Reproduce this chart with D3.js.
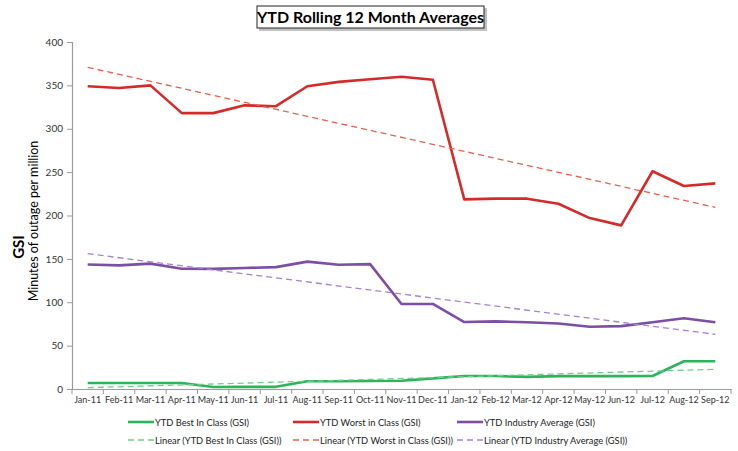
<!DOCTYPE html>
<html><head><meta charset="utf-8">
<script src="https://d3js.org/d3.v7.min.js"></script>
<style>
body{margin:0;background:#fff;}
svg{display:block;font-family:Lato,"Open Sans",sans-serif;}
</style></head>
<body>
<svg id="chart" width="738" height="451"></svg>
<script>
const categories = ["Jan-11","Feb-11","Mar-11","Apr-11","May-11","Jun-11","Jul-11","Aug-11","Sep-11","Oct-11","Nov-11","Dec-11","Jan-12","Feb-12","Mar-12","Apr-12","May-12","Jun-12","Jul-12","Aug-12","Sep-12"];
const bestInClass = [6.9,6.9,6.9,6.9,2.3,2.5,2.5,9.0,9.0,9.2,9.5,12.3,15.0,15.0,14.0,14.8,14.8,14.8,15.0,32.0,32.0];
const worstInClass = [349,347,350,318,318,327,326,349,354,357,360,356.5,218.6,219.4,219.4,213.6,197,188.6,251,234,237];
const industryAvg = [143.5,142.5,144.5,138.7,138.5,139.5,140.5,146.8,143.3,144,98,98,77.2,78,77,75.5,71.8,72.5,77,81.5,77];
const trendBest = [1.5,22.7];
const trendWorst = [370.8,209.4];
const trendIndustry = [156,63];
const yTicks = [0,50,100,150,200,250,300,350,400];

(function(){
const svg = d3.select("#chart");
const pl = 72, pr = 731, pt = 42, pb = 389;
const x = d3.scaleBand().domain(categories).range([pl, pr]);
const y = d3.scaleLinear().domain([0,400]).range([pb, pt]);
const cx = d => x(d) + x.bandwidth()/2;

const axisColor = "#9a9a9a", textColor = "#333";

const yAxis = svg.append("g").attr("transform",`translate(${pl},0)`)
  .call(d3.axisLeft(y).tickValues(yTicks).tickSize(5).tickPadding(4));
yAxis.select(".domain").attr("stroke",axisColor).attr("stroke-width",1.2);
yAxis.selectAll(".tick line").attr("stroke",axisColor);
yAxis.selectAll("text").attr("fill",textColor).style("font-size","10px").style("font-family","Lato,sans-serif");

const xAxis = svg.append("g").attr("transform",`translate(0,${pb})`)
  .call(d3.axisBottom(x).tickSize(0).tickPadding(8));
xAxis.select(".domain").attr("stroke",axisColor).attr("stroke-width",1.2);
xAxis.selectAll("text").attr("fill",textColor).style("font-size","9px").style("font-family","Lato,sans-serif");
const bounds = categories.map(c => x(c)).concat([pr]);
xAxis.selectAll(".btick").data(bounds).enter().append("line")
  .attr("x1",d=>d).attr("x2",d=>d).attr("y1",0).attr("y2",5)
  .attr("stroke",axisColor).attr("stroke-width",1);

const colors = {best:"#2bb45a", worst:"#d42a2a", ind:"#7d4ea6",
  bestT:"#72cc8f", worstT:"#e8604f", indT:"#a683cc"};

const line = d3.line().x((d,i)=>cx(categories[i])).y(d=>y(d));
function trend(vals, color){
  const first = categories[0], last = categories[categories.length-1];
  svg.append("line").attr("x1",cx(first)).attr("y1",y(vals[0]))
    .attr("x2",cx(last)).attr("y2",y(vals[1]))
    .attr("stroke",color).attr("stroke-width",1.3).attr("stroke-dasharray","6,4");
}
function series(vals,color){
  svg.append("path").datum(vals).attr("d",line).attr("fill","none")
    .attr("stroke",color).attr("stroke-width",2.6).attr("stroke-linejoin","round");
}
series(worstInClass, colors.worst);
trend(trendWorst, colors.worstT);
series(industryAvg, colors.ind);
trend(trendIndustry, colors.indT);
series(bestInClass, colors.best);
trend(trendBest, colors.bestT);

const tb = svg.append("g");
tb.append("rect").attr("x",259).attr("y",8).attr("width",228).attr("height",23).attr("fill","#999").attr("opacity",0.6);
tb.append("rect").attr("x",257).attr("y",6).attr("width",227).attr("height",22).attr("fill","#fff").attr("stroke","#222").attr("stroke-width",1);
tb.append("text").attr("x",370.5).attr("y",23).attr("text-anchor","middle")
  .style("font-size","16px").style("font-weight","bold").attr("fill","#000").text("YTD Rolling 12 Month Averages");

svg.append("text").attr("transform","translate(24,247) rotate(-90)").attr("text-anchor","middle")
  .style("font-size","15px").style("font-weight","bold").attr("fill","#000").text("GSI");
svg.append("text").attr("transform","translate(38,221) rotate(-90)").attr("text-anchor","middle")
  .style("font-size","12.5px").attr("fill","#000").text("Minutes of outage per million");

const legend = [
  {label:"YTD Best In Class (GSI)", color:colors.best, dash:null, x:128, y:422},
  {label:"YTD Worst in Class (GSI)", color:colors.worst, dash:null, x:293, y:422},
  {label:"YTD Industry Average (GSI)", color:colors.ind, dash:null, x:457, y:422},
  {label:"Linear (YTD Best In Class (GSI))", color:colors.bestT, dash:"6,4", x:128, y:440},
  {label:"Linear (YTD Worst in Class (GSI))", color:colors.worstT, dash:"6,4", x:293, y:440},
  {label:"Linear (YTD Industry Average (GSI))", color:colors.indT, dash:"6,4", x:457, y:440}
];
const lg = svg.append("g").selectAll("g").data(legend).enter().append("g");
lg.append("line").attr("x1",d=>d.x).attr("x2",d=>d.x+26).attr("y1",d=>d.y).attr("y2",d=>d.y)
  .attr("stroke",d=>d.color).attr("stroke-width",d=>d.dash?1.3:2.6).attr("stroke-dasharray",d=>d.dash);
lg.append("text").attr("x",d=>d.x+27).attr("y",d=>d.y+3.5).style("font-size","9.3px").attr("fill","#222").text(d=>d.label);
})();
</script>
</body></html>
